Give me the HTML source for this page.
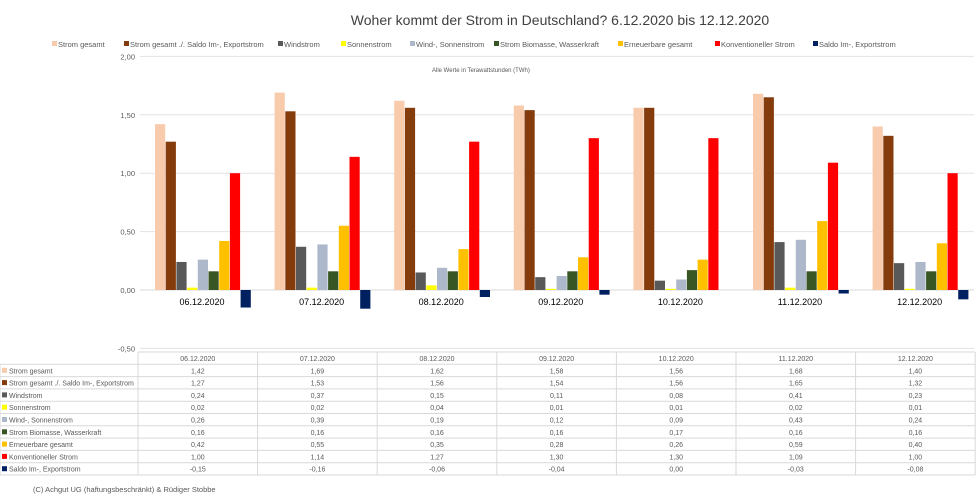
<!DOCTYPE html>
<html><head><meta charset="utf-8"><style>
html,body{margin:0;padding:0;background:#fff;width:976px;height:498px;overflow:hidden}
svg{display:block;font-family:"Liberation Sans",sans-serif}
</style></head><body>
<svg id="s" width="976" height="498" xmlns="http://www.w3.org/2000/svg"></svg>
<script>
const s=document.getElementById('s');
let h='';
h+='<text x="560" y="25" font-size="14" fill="#404040" text-anchor="middle">Woher kommt der Strom in Deutschland? 6.12.2020 bis 12.12.2020</text>';
const names=["Strom gesamt","Strom gesamt ./. Saldo Im-, Exportstrom","Windstrom","Sonnenstrom","Wind-, Sonnenstrom","Strom Biomasse, Wasserkraft","Erneuerbare gesamt","Konventioneller Strom","Saldo Im-, Exportstrom"];
const cols=["#f8cbad","#843c0c","#595959","#ffff00","#adb9ca","#375623","#ffc000","#ff0000","#002060"];
const lx=[52,124,278,341,410,494,618,715,813];
for(let i=0;i<9;i++){h+=`<rect x="${lx[i]}" y="41" width="5" height="5" fill="${cols[i]}"/><text x="${lx[i]+6}" y="47" font-size="7.5" fill="#595959">${names[i]}</text>`;}
const dates=["06.12.2020","07.12.2020","08.12.2020","09.12.2020","10.12.2020","11.12.2020","12.12.2020"];
const d=[[1.42,1.27,0.24,0.02,0.26,0.16,0.42,1.00,-0.15],[1.69,1.53,0.37,0.02,0.39,0.16,0.55,1.14,-0.16],[1.62,1.56,0.15,0.04,0.19,0.16,0.35,1.27,-0.06],[1.58,1.54,0.11,0.01,0.12,0.16,0.28,1.30,-0.04],[1.56,1.56,0.08,0.01,0.09,0.17,0.26,1.30,0.00],[1.68,1.65,0.41,0.02,0.43,0.16,0.59,1.09,-0.03],[1.40,1.32,0.23,0.01,0.24,0.16,0.40,1.00,-0.08]];
const y0=290,k=116.8;
const yl=["2,00","1,50","1,00","0,50","0,00","-0,50"];
for(let i=0;i<6;i++){const v=2-i*0.5,y=y0-v*k;h+=`<text x="135" y="${y+3}" font-size="7.5" fill="#595959" text-anchor="end">${yl[i]}</text>`;h+=`<line x1="140" x2="974" y1="${y}" y2="${y}" stroke="${i==4?'#d9d9d9':'#e2e2e2'}" stroke-width="1"/>`;}
h+='<text x="432" y="72" font-size="6" fill="#595959">Alle Werte in Terawattstunden (TWh)</text>';
const gw=119.6;
for(let g=0;g<7;g++){const x0=138+g*gw;
 for(let j=0;j<9;j++){const v=d[g][j];const x=x0+17+j*10.7;const y=v>=0?y0-v*k:y0;const hh=Math.abs(v)*k;if(hh>0)h+=`<rect x="${x}" y="${y}" width="10.2" height="${hh}" fill="${cols[j]}"/>`;}
 h+=`<text x="${x0+64}" y="305" font-size="9" fill="#000" text-anchor="middle">${dates[g]}</text>`;
}
const tt=352,rh=12.3;
for(let c=0;c<=7;c++){const x=138+c*gw;h+=`<line x1="${x}" x2="${x}" y1="${tt}" y2="${tt+10*rh}" stroke="#d9d9d9"/>`;}
h+=`<line x1="138" x2="975" y1="${tt}" y2="${tt}" stroke="#d9d9d9"/>`;
for(let r=1;r<=10;r++){const y=tt+r*rh;h+=`<line x1="0" x2="975" y1="${y}" y2="${y}" stroke="#d9d9d9"/>`;}
h+=`<line x1="0" x2="0" y1="${tt+rh}" y2="${tt+10*rh}" stroke="#d9d9d9"/>`;
for(let c=0;c<7;c++)h+=`<text x="${138+c*gw+gw/2}" y="${tt+9}" font-size="7" fill="#595959" text-anchor="middle">${dates[c]}</text>`;
for(let r=0;r<9;r++){const y=tt+(r+1)*rh;h+=`<rect x="2" y="${y+3.5}" width="5" height="5" fill="${cols[r]}"/><text x="9" y="${y+9}" font-size="7" fill="#595959">${names[r]}</text>`;
 for(let c=0;c<7;c++){h+=`<text x="${138+c*gw+gw/2}" y="${y+9}" font-size="7" fill="#595959" text-anchor="middle">${d[c][r].toFixed(2).replace('.',',')}</text>`;}}
h+='<text x="33" y="492" font-size="7.5" fill="#595959">(C) Achgut UG (haftungsbeschränkt) &amp; Rüdiger Stobbe</text>';
s.innerHTML=h;
</script>
</body></html>
